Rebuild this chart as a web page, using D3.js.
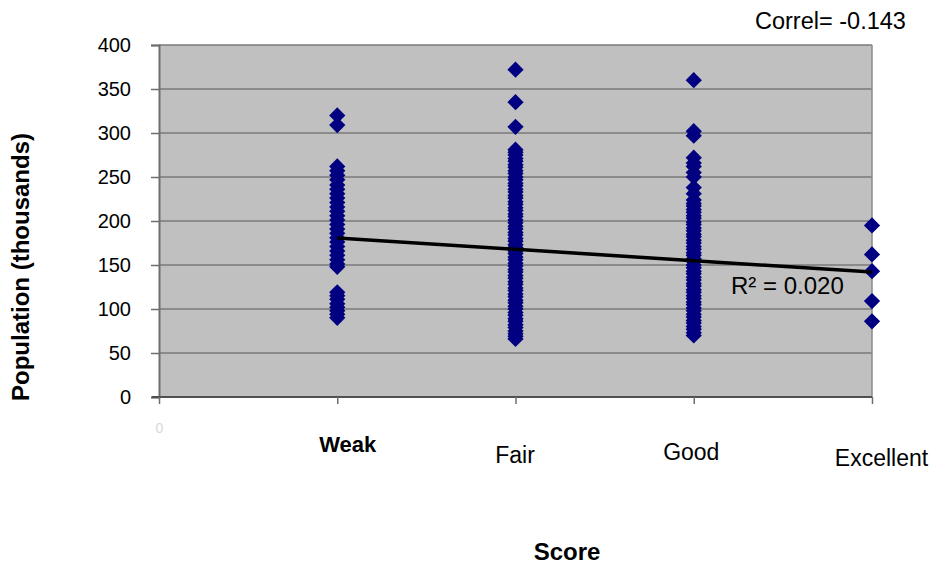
<!DOCTYPE html>
<html>
<head>
<meta charset="utf-8">
<script src="https://cdn.jsdelivr.net/npm/d3@7"></script>
<style>
  html, body { margin: 0; padding: 0; background: #fff; }
  svg { display: block; font-family: "Liberation Sans", Arial, sans-serif; }
</style>
</head>
<body>
<svg id="chart" width="933" height="564"></svg>
<script>
// ---- data ----
const categories = ["Weak", "Fair", "Good", "Excellent"];
const categoryPos = [1, 2, 3, 4];
const weakValues = [320, 309, 262, 257, 252, 247, 241, 236, 231, 226, 221, 216, 211, 206, 201, 196, 191, 186, 181, 176, 171, 166, 161, 156, 151, 148, 119, 115, 111, 106, 102, 98, 94, 90];
const fairValues = [372, 335, 307, 281, 278, 275, 271, 268, 264, 261, 257, 254, 250, 247, 243, 240, 236, 233, 229, 226, 222, 219, 215, 212, 208, 205, 201, 198, 194, 191, 187, 184, 180, 177, 173, 170, 166, 163, 159, 156, 152, 149, 145, 142, 138, 135, 131, 128, 124, 121, 117, 114, 110, 107, 103, 100, 96, 93, 89, 86, 82, 79, 75, 72, 69, 66];
const goodValues = [360, 302, 297, 272, 266, 262, 255, 250, 238, 231, 224, 220, 217, 213, 210, 206, 203, 199, 196, 192, 189, 185, 182, 178, 175, 171, 168, 164, 161, 157, 154, 150, 147, 143, 140, 136, 133, 129, 126, 122, 119, 115, 112, 108, 105, 101, 98, 94, 91, 87, 84, 80, 77, 73, 70];
const excellentValues = [195, 162, 143, 109, 86];
const seriesValues = [weakValues, fairValues, goodValues, excellentValues];
const yTicks = [0, 50, 100, 150, 200, 250, 300, 350, 400];
const xTicks = [0, 1, 2, 3, 4];
const trendX = [1, 4];
const trendY = [180.7, 142];
const rSquaredLabel = "R² = 0.020";
const correlLabel = "Correl= -0.143";
const xTitle = "Score";
const yTitle = "Population (thousands)";

// ---- layout ----
const svg = d3.select("#chart");
const L = 159, R = 872, T = 45, B = 397;
const x = d3.scaleLinear().domain([0, 4]).range([L, R]);
const y = d3.scaleLinear().domain([0, 400]).range([B, T]);

// plot background
svg.append("rect").attr("x", L).attr("y", T).attr("width", R - L).attr("height", B - T)
  .attr("fill", "#c0c0c0");

// gridlines
svg.append("g").selectAll("line").data(yTicks.filter(d => d > 0)).join("line")
  .attr("x1", L).attr("x2", R).attr("y1", d => y(d)).attr("y2", d => y(d))
  .attr("stroke", "#7a7a7a").attr("stroke-width", 1.5);

// right border
svg.append("line").attr("x1", R).attr("x2", R).attr("y1", T).attr("y2", B)
  .attr("stroke", "#8a8a8a").attr("stroke-width", 1.5);

// y axis
const yAxis = d3.axisLeft(y).tickValues(yTicks).tickSize(8).tickPadding(20);
const gy = svg.append("g").attr("transform", `translate(${L},0)`).call(yAxis);
gy.select(".domain").attr("stroke", "#6e6e6e").attr("stroke-width", 2);
gy.selectAll(".tick line").attr("stroke", "#6e6e6e").attr("stroke-width", 1.5);
gy.selectAll(".tick text").attr("font-size", 20).attr("fill", "#000")
  .attr("font-family", "Liberation Sans, Arial, sans-serif");

// x axis
const labelOf = d => d === 0 ? "0" : categories[categoryPos.indexOf(d)];
const labelStyle = {
  0: { dy: 36, weight: "normal", fill: "#d8d8d8", size: 14, dx: 0 },
  1: { dy: 55, weight: "bold", fill: "#000", size: 22, dx: 10 },
  2: { dy: 66, weight: "normal", fill: "#000", size: 23, dx: -1 },
  3: { dy: 63, weight: "normal", fill: "#000", size: 23, dx: -3 },
  4: { dy: 69, weight: "normal", fill: "#000", size: 23, dx: 9 }
};
const xAxis = d3.axisBottom(x).tickValues(xTicks).tickSize(7).tickFormat(labelOf);
const gx = svg.append("g").attr("transform", `translate(0,${B})`).call(xAxis);
gx.select(".domain").attr("stroke", "#505050").attr("stroke-width", 2)
  .attr("d", `M${L - 7},0H${R}`);
gx.selectAll(".tick line").attr("stroke", "#6e6e6e").attr("stroke-width", 1.5);
gx.selectAll(".tick text")
  .attr("y", d => labelStyle[d].dy).attr("dy", 0)
  .attr("dx", d => labelStyle[d].dx)
  .attr("font-size", d => labelStyle[d].size)
  .attr("font-weight", d => labelStyle[d].weight)
  .attr("fill", d => labelStyle[d].fill)
  .attr("font-family", "Liberation Sans, Arial, sans-serif");

// markers
const diamond = d3.symbol(d3.symbolSquare, 132);
const pts = [];
seriesValues.forEach((vals, i) => vals.forEach(v => pts.push({ cx: categoryPos[i], v })));
svg.append("g").selectAll("path").data(pts).join("path")
  .attr("d", diamond)
  .attr("transform", d => `translate(${x(d.cx)},${y(d.v)}) rotate(45)`)
  .attr("fill", "#000080");

// trend line
const line = d3.line().x(d => x(d[0])).y(d => y(d[1]));
svg.append("path").datum(d3.zip(trendX, trendY)).attr("d", line)
  .attr("fill", "none").attr("stroke", "#000").attr("stroke-width", 3.5);

// annotations
svg.append("text").attr("x", 731).attr("y", 294).attr("font-size", 24)
  .attr("fill", "#000").text(rSquaredLabel);
svg.append("text").attr("x", 755).attr("y", 29).attr("font-size", 23.5)
  .attr("fill", "#000").text(correlLabel);

// axis titles
svg.append("text").attr("x", 567).attr("y", 560).attr("text-anchor", "middle")
  .attr("font-size", 24).attr("font-weight", "bold").attr("fill", "#000").text(xTitle);
svg.append("text").attr("transform", "translate(29,267) rotate(-90)")
  .attr("text-anchor", "middle").attr("font-size", 24).attr("font-weight", "bold")
  .attr("fill", "#000").text(yTitle);
</script>
</body>
</html>
